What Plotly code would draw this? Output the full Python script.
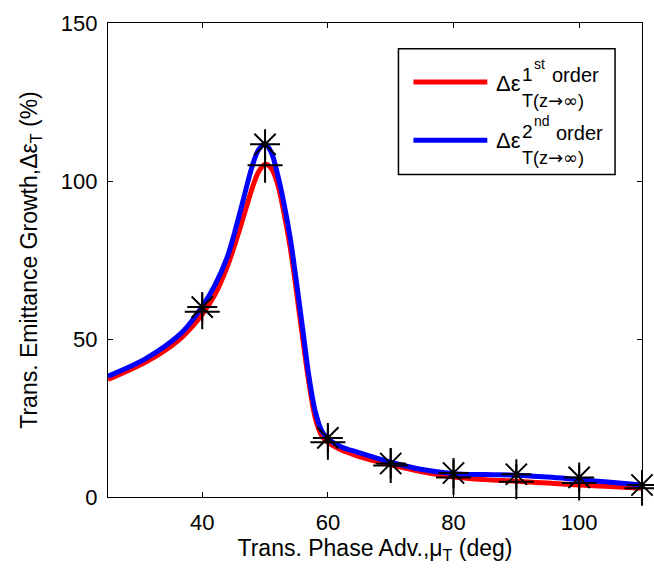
import plotly.graph_objects as go

# ---- data ----
phase_adv = [25, 28, 31, 34, 37, 40, 42, 44, 46, 48, 49, 50, 51, 52, 53, 54, 55, 56, 57, 58, 59, 60,
             62, 65, 70, 75, 80, 85, 90, 95, 100, 105, 110]
growth_2nd = [38.2, 40.8, 43.8, 47.6, 52.5, 60.3, 67, 76, 90, 105, 110, 111.8, 109, 102, 93, 82, 68, 53,
              38, 27, 21, 18.5, 16, 14, 11, 8.7, 7.4, 7.1, 6.9, 6.3, 5.5, 4.7, 3.8]
growth_1st = [37.2, 39.8, 42.7, 46.3, 51, 57.8, 64, 73, 85, 98, 103, 105.3, 104, 99, 90, 79, 65, 50,
              36, 25, 19.5, 17.3, 15, 12.8, 10.2, 8, 6.3, 5.5, 5.0, 4.4, 3.8, 3.3, 2.8]
sim_x = [40, 50, 60, 70, 80, 90, 100, 110]
sim_2nd = [60.1, 111.6, 18.7, 10.6, 7.6, 7.2, 6.2, 3.8]
sim_1st = [58.6, 105.0, 17.3, 10.0, 6.2, 4.8, 4.4, 2.8]
x_ticks = [40, 60, 80, 100]
y_ticks = [0, 50, 100, 150]

FONT = "Liberation Sans"
W, H = 654, 569
L, R, T, B = 108, 643, 18, 497


def px(x):
    return (x - L) / (R - L)


def py(y):
    return (B - y) / (B - T)


fig = go.Figure()
fig.add_trace(go.Scatter(x=phase_adv, y=growth_1st, mode="lines", line=dict(color="#ff0000", width=5, shape="spline"),
                         showlegend=False))
fig.add_trace(go.Scatter(x=phase_adv, y=growth_2nd, mode="lines", line=dict(color="#0000ff", width=5, shape="spline"),
                         showlegend=False))
fig.add_trace(go.Scatter(x=sim_x, y=sim_1st, mode="markers",
                         marker=dict(symbol="cross-thin-open", size=25, color="black", line=dict(color="black", width=2)),
                         showlegend=False, cliponaxis=False))
fig.add_trace(go.Scatter(x=sim_x, y=sim_2nd, mode="markers",
                         marker=dict(symbol="asterisk-open", size=25, color="black", line=dict(color="black", width=2)),
                         showlegend=False, cliponaxis=False))

axis_common = dict(showline=True, linecolor="black", linewidth=1.3, mirror="ticks", ticks="inside",
                   ticklen=5, tickwidth=1, tickcolor="black", showgrid=False, zeroline=False,
                   ticklabelstandoff=5,
                   tickfont=dict(family=FONT, size=22, color="black"))
fig.update_xaxes(range=[25, 110], tickvals=x_ticks,
                 title=dict(text="Trans. Phase Adv.,μ<sub>T</sub> (deg)", font=dict(family=FONT, size=23, color="black"),
                            standoff=6),
                 **axis_common)
fig.update_yaxes(range=[0, 150], tickvals=y_ticks,
                 title=dict(text="Trans. Emittance Growth,Δε<sub>T</sub> (%)", font=dict(family=FONT, size=23, color="black"),
                            standoff=16),
                 **axis_common)

# legend box
shapes = [dict(type="rect", xref="paper", yref="paper", x0=px(399), x1=px(616), y0=py(171), y1=py(44),
               line=dict(color="black", width=1.5), fillcolor="white", layer="above")]
for yy, col in [(77.7, "#ff0000"), (136.5, "#0000ff")]:
    shapes.append(dict(type="line", xref="paper", yref="paper", x0=px(414), x1=px(488), y0=py(yy), y1=py(yy),
                       line=dict(color=col, width=5), layer="above"))

ann = []


def txt(s, x, y, size):
    ann.append(dict(text=s, xref="paper", yref="paper", x=px(x), y=py(y), xanchor="left", yanchor="middle",
                    showarrow=False, font=dict(family=FONT, size=size, color="black")))


sub_text = "T(z<span style='font-family:DejaVu Sans'>→∞</span>)"
for dy, num, suf, sx, ox in [(0, "1", "st", 533, 551), (58, "2", "nd", 533, 555)]:
    txt("Δε", 495, 79 + dy, 22)
    txt(num, 521, 70 + dy, 19)
    txt(suf, sx, 59 + dy, 14)
    txt("order", ox, 71 + dy, 20)
    txt(sub_text, 521, 96 + dy, 18)

fig.update_layout(width=W, height=H, margin=dict(l=L, r=W - R, t=T, b=H - B),
                  paper_bgcolor="white", plot_bgcolor="white", shapes=shapes, annotations=ann,
                  font=dict(family=FONT, color="black"))
fig.write_html("out.html")
